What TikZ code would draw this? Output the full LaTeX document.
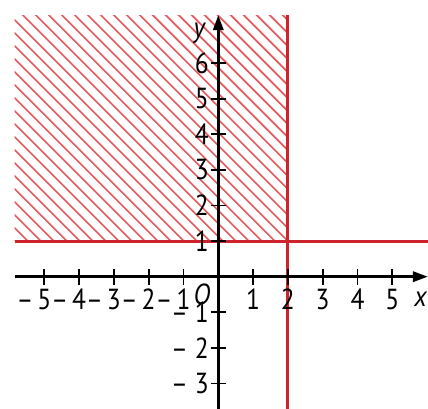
\documentclass[tikz,border=0pt]{standalone}
\usepackage{fontspec}
\setmainfont{PT Sans}[FakeStretch=0.88]
\usetikzlibrary{arrows.meta}
\definecolor{linered}{RGB}{205,35,45}
\definecolor{hatchred}{RGB}{226,90,95}

\begin{document}
\begin{tikzpicture}[
    x=34.8pt, y=35.6pt,
    font=\fontsize{29}{34}\selectfont,
    >={Triangle[length=15pt, width=10pt]},
    axis/.style={line width=3pt, ->},
    tick/.style={line width=1.8pt},
    bound/.style={draw=linered, line width=3pt},
    hatch/.style={draw=hatchred, line width=1.6pt},
    lab/.style={inner sep=1pt}
]
\useasboundingbox (-6.273,-3.716) rectangle (6.026,7.772);
% hatched region x < 2, y > 1
\coordinate (hsw) at (-5.85,1);
\coordinate (hne) at (2,7.35);
\begin{scope}
\clip (hsw) rectangle (hne);
\foreach \k in {0,...,40}
  \draw[hatch] ([xshift=\k*13pt]hsw) -- ++(-300pt,300pt);
\end{scope}
% boundary lines
\coordinate (vtop) at (2,7.35);
\coordinate (vbot) at (2,-3.716);
\coordinate (hleft) at (-5.85,1);
\coordinate (hright) at (6.026,1);
\draw[bound] (vtop) -- (vbot);
\draw[bound] (hleft) -- (hright);
% axes
\coordinate (xl) at (-5.85,0);
\coordinate (xr) at (6.026,0);
\coordinate (yb) at (0,-3.716);
\coordinate (yt) at (0,7.35);
\draw[axis] (xl) -- (xr);
\draw[axis] (yb) -- (yt);
\foreach \i in {-5,...,-1,1,2,...,5}
  \draw[tick] (\i,-0.22) -- (\i,0.22);
\foreach \i in {-3,...,-1,1,2,...,6}
  \draw[tick] (-0.22,\i) -- (0.22,\i);
% labels
\foreach \i in {1,...,5} {
  \node[lab] (x\i) at (\i,-0.63) {\i};
  \node[lab] (xm\i) at (-\i,-0.63) {\llap{–\kern4pt}\i};
}
\foreach \i in {1,...,6}
  \node[lab, anchor=east] (y\i) at (-0.24,\i) {\i};
\foreach \i in {1,...,3}
  \node[lab, anchor=east] (ym\i) at (-0.24,-\i) {– \i};
\node[lab] (o) at (-0.47,-0.5) {\textit{O}};
\node[lab] (xlab) at (5.82,-0.62) {\textit{x}};
\node[lab] (ylab) at (-0.53,6.84) {\textit{y}};
\end{tikzpicture}
\end{document}
